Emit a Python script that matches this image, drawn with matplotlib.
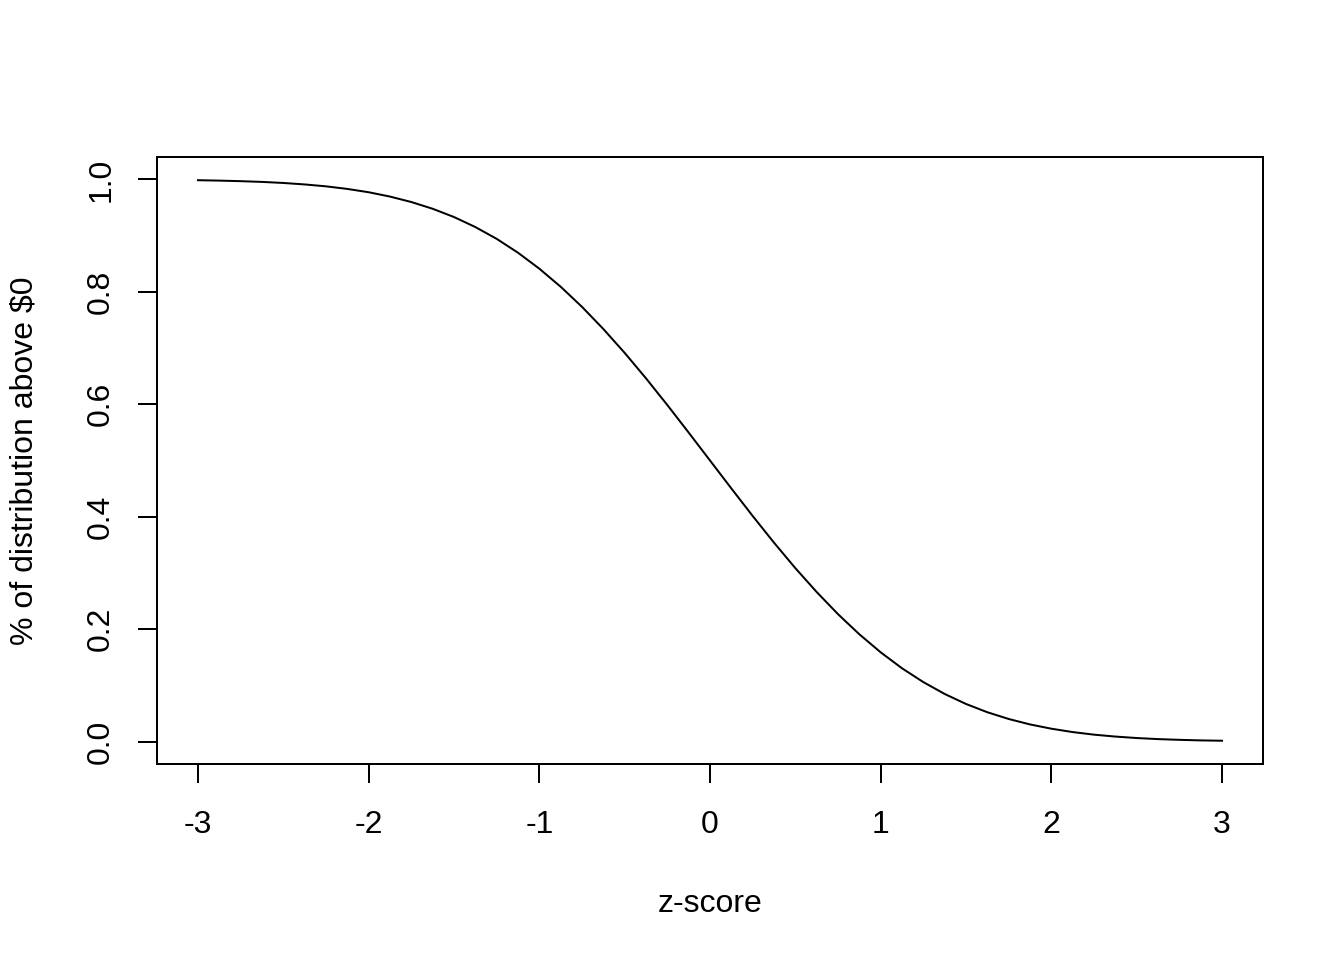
import matplotlib
matplotlib.use("Agg")
import matplotlib.pyplot as plt

# z-scores and share of distribution above $0
z = [-3.0, -2.875, -2.75, -2.625, -2.5, -2.375, -2.25, -2.125, -2.0, -1.875,
     -1.75, -1.625, -1.5, -1.375, -1.25, -1.125, -1.0, -0.875, -0.75, -0.625,
     -0.5, -0.375, -0.25, -0.125, 0.0, 0.125, 0.25, 0.375, 0.5, 0.625, 0.75,
     0.875, 1.0, 1.125, 1.25, 1.375, 1.5, 1.625, 1.75, 1.875, 2.0, 2.125, 2.25,
     2.375, 2.5, 2.625, 2.75, 2.875, 3.0]
share = [0.9987, 0.9980, 0.9970, 0.9957, 0.9938, 0.9912, 0.9878, 0.9832, 0.9773,
         0.9696, 0.9599, 0.9479, 0.9332, 0.9154, 0.8944, 0.8697, 0.8413, 0.8092,
         0.7734, 0.7340, 0.6915, 0.6462, 0.5987, 0.5497, 0.5000, 0.4503, 0.4013,
         0.3538, 0.3085, 0.2660, 0.2266, 0.1908, 0.1587, 0.1303, 0.1057, 0.0846,
         0.0668, 0.0521, 0.0401, 0.0304, 0.0228, 0.0168, 0.0122, 0.0088, 0.0062,
         0.0043, 0.0030, 0.0020, 0.0014]

xticks = [-3, -2, -1, 0, 1, 2, 3]
yticks = [0.0, 0.2, 0.4, 0.6, 0.8, 1.0]

plt.rcParams['font.family'] = ['Liberation Sans', 'DejaVu Sans']

fig = plt.figure(figsize=(7, 5), dpi=192)
ax = fig.add_axes([157/1344, 1 - 764/960, 1106/1344, 607/960])

ax.plot(z, share, color='black', lw=0.75)
ax.set_xlim(-3.24, 3.24)
ax.set_ylim(-0.04, 1.04)

ax.set_xticks(xticks)
ax.set_xticklabels([str(t) for t in xticks])
ax.set_yticks(yticks)
ax.set_yticklabels(["%.1f" % t for t in yticks], rotation=90, va='center')

ax.tick_params(direction='out', length=7.1, width=0.75, labelsize=12)
ax.tick_params(axis='x', pad=10.3)
ax.tick_params(axis='y', pad=8.2)
for s in ax.spines.values():
    s.set_linewidth(0.75)

ax.set_xlabel("z-score", fontsize=12, va='center')
ax.xaxis.set_label_coords(0.5, (764 - 904) / 607)
ax.set_ylabel("% of distribution above $0", fontsize=12, va='center')
ax.yaxis.set_label_coords((25 - 157) / 1106, 0.5)

fig.savefig("out.png", dpi=192)
